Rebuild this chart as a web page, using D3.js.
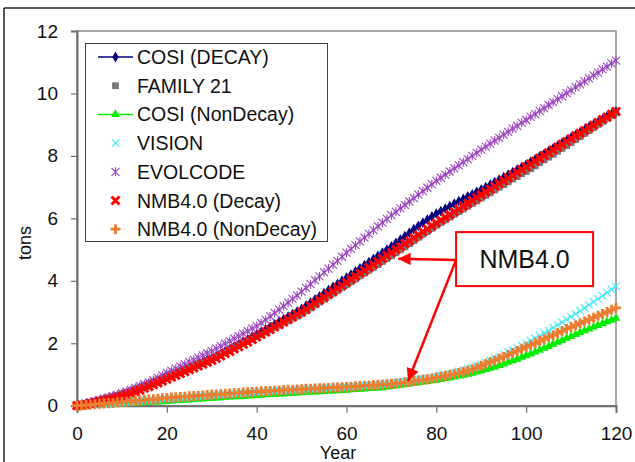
<!DOCTYPE html>
<html>
<head>
  <meta charset="utf-8">
  <title>Inventory by year</title>
  <style>
  body { margin: 0; background: #fff; }
  svg { display: block; font-family: "Liberation Sans", Arial, sans-serif; }
  </style>
</head>
<body>
  <svg width="635" height="462"></svg>
  <script src="https://d3js.org/d3.v7.min.js"></script>
  <script>
    // years 0..120, one value per year (tons)
    var cosiDecay = [
      0, 0.03, 0.06, 0.09, 0.12, 0.15, 0.19, 0.23, 0.27, 0.31, 0.35,
      0.40, 0.45, 0.51, 0.56, 0.62, 0.68, 0.74, 0.80, 0.86, 0.92,
      0.98, 1.04, 1.10, 1.16, 1.22, 1.28, 1.34, 1.40, 1.46, 1.52,
      1.59, 1.67, 1.74, 1.82, 1.89, 1.97, 2.05, 2.12, 2.20, 2.28,
      2.36, 2.44, 2.52, 2.60, 2.69, 2.77, 2.85, 2.93, 3.01, 3.10,
      3.20, 3.30, 3.40, 3.50, 3.60, 3.70, 3.80, 3.90, 4.00, 4.10,
      4.20, 4.30, 4.40, 4.50, 4.60, 4.70, 4.80, 4.90, 5.00, 5.10,
      5.21, 5.32, 5.43, 5.54, 5.65, 5.76, 5.86, 5.96, 6.06, 6.15,
      6.23, 6.31, 6.39, 6.47, 6.55, 6.62, 6.70, 6.77, 6.85, 6.92,
      7.00, 7.08, 7.16, 7.24, 7.32, 7.40, 7.48, 7.56, 7.64, 7.72,
      7.81, 7.89, 7.98, 8.06, 8.15, 8.24, 8.32, 8.41, 8.49, 8.58,
      8.66, 8.75, 8.83, 8.92, 9.00, 9.08, 9.17, 9.25, 9.34, 9.42];
    var family21 = [
      0, 0.03, 0.07, 0.10, 0.14, 0.18, 0.21, 0.25, 0.29, 0.33, 0.38,
      0.43, 0.48, 0.53, 0.59, 0.65, 0.71, 0.77, 0.83, 0.89, 0.95,
      1.00, 1.06, 1.11, 1.17, 1.22, 1.28, 1.33, 1.39, 1.44, 1.50,
      1.57, 1.64, 1.71, 1.78, 1.85, 1.92, 1.99, 2.06, 2.13, 2.20,
      2.27, 2.35, 2.42, 2.50, 2.57, 2.65, 2.72, 2.80, 2.87, 2.95,
      3.04, 3.13, 3.23, 3.32, 3.41, 3.51, 3.60, 3.69, 3.79, 3.88,
      3.97, 4.06, 4.16, 4.25, 4.34, 4.43, 4.52, 4.62, 4.71, 4.80,
      4.90, 4.99, 5.09, 5.19, 5.29, 5.39, 5.49, 5.58, 5.68, 5.78,
      5.87, 5.95, 6.04, 6.13, 6.22, 6.30, 6.39, 6.48, 6.56, 6.65,
      6.74, 6.82, 6.91, 7.00, 7.08, 7.17, 7.26, 7.34, 7.43, 7.50,
      7.59, 7.68, 7.78, 7.87, 7.96, 8.05, 8.15, 8.24, 8.33, 8.42,
      8.52, 8.62, 8.72, 8.81, 8.91, 9.01, 9.11, 9.21, 9.30, 9.40];
    var cosiNonDecay = [
      0, 0.01, 0.01, 0.02, 0.02, 0.03, 0.03, 0.04, 0.05, 0.05, 0.06,
      0.07, 0.08, 0.08, 0.09, 0.10, 0.11, 0.12, 0.12, 0.13, 0.14,
      0.15, 0.16, 0.17, 0.18, 0.19, 0.20, 0.21, 0.22, 0.23, 0.24,
      0.25, 0.26, 0.27, 0.28, 0.29, 0.29, 0.30, 0.31, 0.32, 0.33,
      0.34, 0.35, 0.36, 0.37, 0.38, 0.38, 0.39, 0.40, 0.41, 0.42,
      0.43, 0.44, 0.44, 0.45, 0.46, 0.47, 0.47, 0.48, 0.49, 0.50,
      0.51, 0.52, 0.53, 0.54, 0.55, 0.56, 0.57, 0.58, 0.60, 0.62,
      0.64, 0.66, 0.68, 0.70, 0.72, 0.74, 0.76, 0.78, 0.80, 0.82,
      0.84, 0.87, 0.89, 0.92, 0.95, 0.98, 1.01, 1.04, 1.08, 1.12,
      1.16, 1.20, 1.24, 1.29, 1.34, 1.39, 1.44, 1.49, 1.55, 1.60,
      1.66, 1.72, 1.78, 1.84, 1.90, 1.97, 2.03, 2.09, 2.16, 2.22,
      2.28, 2.34, 2.40, 2.46, 2.52, 2.57, 2.63, 2.69, 2.74, 2.80];
    var vision = [
      0, 0.01, 0.02, 0.03, 0.04, 0.05, 0.06, 0.07, 0.08, 0.09, 0.10,
      0.11, 0.12, 0.14, 0.15, 0.16, 0.17, 0.18, 0.19, 0.21, 0.22,
      0.23, 0.24, 0.25, 0.26, 0.27, 0.28, 0.29, 0.31, 0.32, 0.33,
      0.34, 0.35, 0.36, 0.37, 0.38, 0.39, 0.40, 0.41, 0.42, 0.43,
      0.44, 0.45, 0.46, 0.47, 0.48, 0.48, 0.49, 0.50, 0.51, 0.52,
      0.53, 0.54, 0.54, 0.55, 0.56, 0.57, 0.57, 0.58, 0.59, 0.60,
      0.61, 0.62, 0.63, 0.64, 0.65, 0.66, 0.67, 0.69, 0.70, 0.72,
      0.74, 0.76, 0.78, 0.80, 0.82, 0.84, 0.86, 0.88, 0.90, 0.93,
      0.96, 0.99, 1.02, 1.06, 1.10, 1.14, 1.18, 1.22, 1.27, 1.32,
      1.38, 1.44, 1.51, 1.57, 1.64, 1.71, 1.78, 1.85, 1.93, 2.00,
      2.08, 2.16, 2.24, 2.33, 2.41, 2.50, 2.58, 2.67, 2.76, 2.85,
      2.94, 3.04, 3.13, 3.23, 3.33, 3.42, 3.52, 3.62, 3.72, 3.82];
    var evolcode = [
      0, 0.03, 0.07, 0.11, 0.15, 0.19, 0.23, 0.27, 0.31, 0.35, 0.40,
      0.45, 0.51, 0.57, 0.63, 0.69, 0.75, 0.82, 0.89, 0.97, 1.05,
      1.12, 1.19, 1.26, 1.33, 1.40, 1.47, 1.54, 1.61, 1.68, 1.75,
      1.83, 1.91, 1.99, 2.07, 2.15, 2.23, 2.31, 2.39, 2.47, 2.55,
      2.65, 2.75, 2.86, 2.97, 3.08, 3.19, 3.30, 3.42, 3.53, 3.65,
      3.77, 3.89, 4.02, 4.14, 4.27, 4.39, 4.52, 4.64, 4.77, 4.90,
      5.02, 5.14, 5.26, 5.38, 5.50, 5.62, 5.74, 5.86, 5.98, 6.10,
      6.21, 6.32, 6.43, 6.54, 6.65, 6.76, 6.87, 6.98, 7.09, 7.20,
      7.30, 7.40, 7.50, 7.60, 7.70, 7.80, 7.90, 8.00, 8.10, 8.20,
      8.30, 8.39, 8.49, 8.58, 8.68, 8.77, 8.87, 8.96, 9.06, 9.15,
      9.25, 9.34, 9.44, 9.53, 9.63, 9.72, 9.82, 9.91, 10.01, 10.10,
      10.20, 10.29, 10.39, 10.48, 10.58, 10.67, 10.77, 10.86, 10.96, 11.05];
    var nmbDecay = [
      0, 0.02, 0.04, 0.07, 0.10, 0.13, 0.16, 0.19, 0.22, 0.26, 0.30,
      0.35, 0.40, 0.45, 0.50, 0.56, 0.61, 0.67, 0.73, 0.79, 0.85,
      0.91, 0.97, 1.03, 1.09, 1.15, 1.21, 1.27, 1.33, 1.39, 1.45,
      1.52, 1.59, 1.67, 1.74, 1.82, 1.89, 1.97, 2.04, 2.12, 2.20,
      2.28, 2.36, 2.44, 2.52, 2.60, 2.68, 2.76, 2.84, 2.92, 3.00,
      3.09, 3.19, 3.28, 3.38, 3.47, 3.57, 3.66, 3.76, 3.85, 3.95,
      4.05, 4.14, 4.24, 4.33, 4.43, 4.52, 4.62, 4.71, 4.81, 4.90,
      5.00, 5.09, 5.19, 5.28, 5.38, 5.47, 5.57, 5.66, 5.76, 5.85,
      5.94, 6.03, 6.12, 6.21, 6.30, 6.39, 6.48, 6.57, 6.66, 6.75,
      6.84, 6.93, 7.02, 7.11, 7.20, 7.29, 7.38, 7.47, 7.56, 7.65,
      7.74, 7.83, 7.92, 8.01, 8.10, 8.19, 8.28, 8.37, 8.46, 8.55,
      8.64, 8.72, 8.81, 8.90, 8.98, 9.07, 9.16, 9.24, 9.33, 9.42];
    var nmbNonDecay = [
      0, 0.01, 0.02, 0.03, 0.05, 0.06, 0.07, 0.08, 0.09, 0.11, 0.12,
      0.13, 0.15, 0.16, 0.17, 0.18, 0.20, 0.21, 0.22, 0.24, 0.25,
      0.26, 0.27, 0.28, 0.29, 0.30, 0.31, 0.32, 0.33, 0.34, 0.35,
      0.36, 0.37, 0.38, 0.39, 0.40, 0.41, 0.42, 0.43, 0.44, 0.45,
      0.46, 0.47, 0.47, 0.48, 0.49, 0.50, 0.51, 0.51, 0.52, 0.53,
      0.54, 0.54, 0.55, 0.56, 0.56, 0.57, 0.58, 0.58, 0.59, 0.60,
      0.61, 0.62, 0.63, 0.64, 0.65, 0.66, 0.67, 0.68, 0.69, 0.70,
      0.71, 0.73, 0.75, 0.77, 0.79, 0.81, 0.83, 0.85, 0.87, 0.90,
      0.93, 0.96, 0.99, 1.02, 1.05, 1.09, 1.13, 1.17, 1.22, 1.28,
      1.34, 1.40, 1.45, 1.51, 1.57, 1.63, 1.69, 1.75, 1.82, 1.88,
      1.94, 2.00, 2.07, 2.13, 2.20, 2.26, 2.33, 2.39, 2.46, 2.52,
      2.58, 2.64, 2.70, 2.76, 2.82, 2.88, 2.94, 3.00, 3.07, 3.13];

    var seriesNames = ["COSI (DECAY)", "FAMILY 21", "COSI (NonDecay)", "VISION",
      "EVOLCODE", "NMB4.0 (Decay)", "NMB4.0 (NonDecay)"];
    var xTicks = [0, 20, 40, 60, 80, 100, 120];
    var yTicks = [0, 2, 4, 6, 8, 10, 12];
    var noteText = "NMB4.0";

    var series = [
      { name: seriesNames[0], values: cosiDecay, color: "#000080", line: true, marker: "diamond" },
      { name: seriesNames[1], values: family21, color: "#7a7a7a", line: false, marker: "square" },
      { name: seriesNames[2], values: cosiNonDecay, color: "#00ee00", line: true, marker: "triangle" },
      { name: seriesNames[3], values: vision, color: "#44e8f8", line: false, marker: "x" },
      { name: seriesNames[4], values: evolcode, color: "#9a44be", line: false, marker: "star" },
      { name: seriesNames[5], values: nmbDecay, color: "#ff0000", line: false, marker: "boldx" },
      { name: seriesNames[6], values: nmbNonDecay, color: "#ed7d31", line: false, marker: "plus" }
    ];

    var svg = d3.select("svg");
    var xScale = d3.scaleLinear().domain([0, 120]).range([77, 616]);
    var yScale = d3.scaleLinear().domain([0, 12]).range([405.7, 31]);

    // outer frame fragments
    svg.append("line").attr("x1", 4).attr("x2", 635).attr("y1", 8).attr("y2", 8)
      .attr("stroke", "#222").attr("stroke-width", 1.5);
    svg.append("line").attr("x1", 4).attr("x2", 4).attr("y1", 8).attr("y2", 462)
      .attr("stroke", "#222").attr("stroke-width", 1.5);

    // plot box
    svg.append("rect").attr("x", 77).attr("y", 31).attr("width", 539).attr("height", 374.7)
      .attr("fill", "none").attr("stroke", "#8c8c8c").attr("stroke-width", 1.5);

    var xAxis = svg.append("g").attr("transform", "translate(0,405.7)")
      .call(d3.axisBottom(xScale).tickValues(xTicks).tickSize(7).tickPadding(14));
    var yAxis = svg.append("g").attr("transform", "translate(77,0)")
      .call(d3.axisLeft(yScale).tickValues(yTicks).tickSize(6).tickPadding(13));
    [xAxis, yAxis].forEach(function (ax) {
      ax.select(".domain").attr("stroke", "#6e6e6e").attr("stroke-width", 2);
      ax.selectAll(".tick line").attr("stroke", "#6e6e6e").attr("stroke-width", 1.2);
      ax.selectAll(".tick text").attr("font-size", 19).attr("fill", "#111")
        .attr("font-family", "Liberation Sans, Arial, sans-serif");
    });

    svg.append("text").attr("x", 338).attr("y", 459).attr("text-anchor", "middle")
      .attr("font-size", 18).attr("fill", "#111").text("Year");
    svg.append("text").attr("transform", "translate(31,243) rotate(-90)")
      .attr("text-anchor", "middle").attr("font-size", 18).attr("fill", "#111").text("tons");

    function drawMarker(g, kind, color) {
      if (kind === "diamond") {
        g.append("path").attr("d", d3.symbol(d3.symbolDiamond, 34)()).attr("fill", color);
      } else if (kind === "square") {
        g.append("rect").attr("x", -3.4).attr("y", -3.4).attr("width", 6.8).attr("height", 6.8).attr("fill", color);
      } else if (kind === "triangle") {
        g.append("path").attr("d", d3.symbol(d3.symbolTriangle, 34)()).attr("fill", color);
      } else if (kind === "x") {
        g.append("path").attr("d", "M-3.8,-3.8L3.8,3.8M-3.8,3.8L3.8,-3.8")
          .attr("stroke", color).attr("stroke-width", 1.1).attr("fill", "none");
      } else if (kind === "star") {
        g.append("path").attr("d", "M-4,-4L4,4M-4,4L4,-4M0,-4.5L0,4.5")
          .attr("stroke", color).attr("stroke-width", 1.1).attr("fill", "none");
      } else if (kind === "boldx") {
        g.append("path").attr("d", "M-4,-4L4,4M-4,4L4,-4")
          .attr("stroke", color).attr("stroke-width", 3).attr("fill", "none");
      } else if (kind === "plus") {
        g.append("path").attr("d", "M-5,0L5,0M0,-5L0,5")
          .attr("stroke", color).attr("stroke-width", 2.8).attr("fill", "none");
      }
    }

    var lineGen = d3.line().x(function (d, i) { return xScale(i); }).y(function (d) { return yScale(d); });

    series.forEach(function (s) {
      var g = svg.append("g");
      if (s.line) {
        g.append("path").attr("d", lineGen(s.values)).attr("fill", "none")
          .attr("stroke", s.color).attr("stroke-width", 1.5);
      }
      s.values.forEach(function (v, i) {
        var m = g.append("g").attr("transform", "translate(" + xScale(i) + "," + yScale(v) + ")");
        drawMarker(m, s.marker, s.color);
      });
    });

    // legend
    var legend = svg.append("g");
    legend.append("rect").attr("x", 85.5).attr("y", 43.5).attr("width", 242).attr("height", 198)
      .attr("fill", "#fff").attr("stroke", "#404040").attr("stroke-width", 1);
    series.forEach(function (s, i) {
      var yy = 57 + i * 28.7;
      var row = legend.append("g").attr("transform", "translate(0," + yy + ")");
      if (s.line) {
        row.append("line").attr("x1", 98).attr("x2", 133).attr("y1", 0).attr("y2", 0)
          .attr("stroke", s.color).attr("stroke-width", 1.5);
      }
      drawMarker(row.append("g").attr("transform", "translate(115.5,0)"), s.marker, s.color);
      row.append("text").attr("x", 137).attr("y", 7).attr("font-size", 19.5).attr("fill", "#111").text(s.name);
    });

    // annotation (data coordinates)
    var noteBox = { x0: 84.4, x1: 114.9, y0: 5.56, y1: 3.83 };
    var arrowFrom = { year: 84.4, value: 4.67 };
    var arrowTips = [{ year: 71.5, value: 4.71 }, { year: 73.7, value: 0.79 }];

    svg.append("rect").attr("x", xScale(noteBox.x0)).attr("y", yScale(noteBox.y0))
      .attr("width", xScale(noteBox.x1) - xScale(noteBox.x0))
      .attr("height", yScale(noteBox.y1) - yScale(noteBox.y0))
      .attr("fill", "#fff").attr("stroke", "#ff0000").attr("stroke-width", 2);
    svg.append("text").attr("x", (xScale(noteBox.x0) + xScale(noteBox.x1)) / 2)
      .attr("y", (yScale(noteBox.y0) + yScale(noteBox.y1)) / 2 + 9)
      .attr("text-anchor", "middle").attr("font-size", 25).attr("fill", "#111").text(noteText);

    svg.append("defs").append("marker").attr("id", "head").attr("viewBox", "0 0 10 10")
      .attr("refX", 10).attr("refY", 5).attr("markerWidth", 6).attr("markerHeight", 5)
      .attr("markerUnits", "strokeWidth").attr("orient", "auto")
      .append("path").attr("d", "M0,0L10,5L0,10Z").attr("fill", "#ff0000");
    arrowTips.forEach(function (t) {
      svg.append("line").attr("x1", xScale(arrowFrom.year)).attr("y1", yScale(arrowFrom.value))
        .attr("x2", xScale(t.year)).attr("y2", yScale(t.value))
        .attr("stroke", "#ff0000").attr("stroke-width", 2.5).attr("marker-end", "url(#head)");
    });
  </script>
</body>
</html>
